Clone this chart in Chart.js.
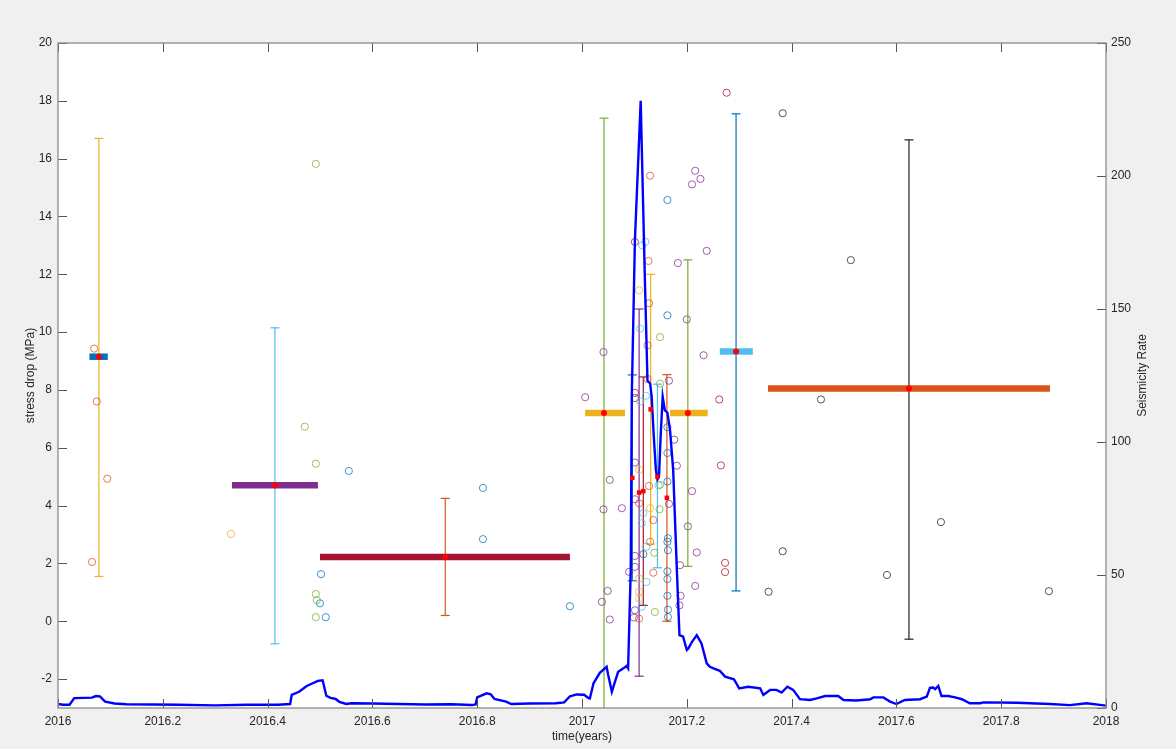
<!DOCTYPE html>
<html>
<head>
<meta charset="utf-8">
<script src="https://cdn.jsdelivr.net/npm/chart.js@4.4.1/dist/chart.umd.min.js"></script>
<style>
  html, body { margin: 0; padding: 0; background: #f0f0f0; }
  #wrap { width: 1176px; height: 749px; }
</style>
</head>
<body>
<div id="wrap"><canvas id="chart" width="1176" height="749"></canvas></div>
<script>
// axis ticks
const xTicks = [2016, 2016.2, 2016.4, 2016.6, 2016.8, 2017, 2017.2, 2017.4, 2017.6, 2017.8, 2018];
const xTickLabels = ['2016', '2016.2', '2016.4', '2016.6', '2016.8', '2017', '2017.2', '2017.4', '2017.6', '2017.8', '2018'];
const leftTicks = [-2, 0, 2, 4, 6, 8, 10, 12, 14, 16, 18, 20];
const rightTicks = [0, 50, 100, 150, 200, 250];

// seismicity rate (right axis)
const seisYears = [
  2016.000, 2016.010, 2016.022, 2016.031, 2016.050, 2016.065, 2016.072, 2016.080, 2016.090, 2016.108,
  2016.130, 2016.180, 2016.230, 2016.300, 2016.360, 2016.420, 2016.443, 2016.446, 2016.460, 2016.474,
  2016.485, 2016.496, 2016.505, 2016.512, 2016.520, 2016.530, 2016.537, 2016.550, 2016.560, 2016.600,
  2016.650, 2016.700, 2016.750, 2016.790, 2016.797, 2016.800, 2016.818, 2016.826, 2016.833, 2016.855,
  2016.865, 2016.900, 2016.950, 2016.966, 2016.977, 2016.990, 2017.004, 2017.012, 2017.015, 2017.022,
  2017.034, 2017.047, 2017.050, 2017.057, 2017.063, 2017.069, 2017.079, 2017.085, 2017.088, 2017.093,
  2017.095, 2017.101, 2017.112, 2017.120, 2017.125, 2017.130, 2017.133, 2017.137, 2017.141, 2017.144,
  2017.147, 2017.150, 2017.154, 2017.158, 2017.163, 2017.168, 2017.174, 2017.181, 2017.186, 2017.193,
  2017.200, 2017.203, 2017.210, 2017.219, 2017.228, 2017.238, 2017.244, 2017.251, 2017.263, 2017.273,
  2017.290, 2017.300, 2017.317, 2017.340, 2017.346, 2017.359, 2017.371, 2017.381, 2017.392, 2017.403,
  2017.416, 2017.435, 2017.448, 2017.464, 2017.489, 2017.499, 2017.524, 2017.550, 2017.556, 2017.575,
  2017.588, 2017.600, 2017.616, 2017.645, 2017.658, 2017.664, 2017.670, 2017.674, 2017.680, 2017.686,
  2017.699, 2017.712, 2017.725, 2017.740, 2017.760, 2017.766, 2017.830, 2017.893, 2017.931, 2017.963,
  2018.000
];
const seisRate = [
  1.5, 1.2, 1.2, 3.7, 3.8, 3.9, 4.5, 4.4, 2.4, 1.7,
  1.4, 1.3, 1.2, 1.0, 1.2, 1.2, 1.5, 4.9, 6.1, 8.2,
  9.2, 10.2, 10.4, 4.6, 3.8, 3.4, 2.3, 1.5, 1.8, 1.7,
  1.5, 1.3, 1.4, 1.1, 1.3, 4.0, 5.5, 5.1, 3.4, 2.4,
  1.5, 1.7, 1.8, 2.1, 4.4, 5.1, 5.0, 3.8, 3.6, 9.3,
  13.2, 15.5, 12.4, 6.1, 9.9, 13.6, 14.9, 15.8, 14.9, 51.9,
  117, 176, 228.3, 161, 123, 122, 117, 102, 89.5, 86,
  87, 102, 117, 112, 111, 104.5, 89.5, 52, 27.4, 26.8,
  21.8, 22.4, 24.9, 27.4, 24.3, 16.8, 15.5, 14.9, 14.0, 11.8,
  10.8, 7.4, 8.0, 7.4, 4.9, 6.8, 6.8, 5.8, 8.0, 6.8,
  3.3, 3.0, 3.6, 4.5, 4.5, 3.0, 2.8, 3.3, 4.0, 4.0,
  2.4, 1.5, 3.0, 3.3, 4.3, 7.6, 7.7, 7.1, 8.3, 4.5,
  4.5, 4.0, 3.3, 1.8, 1.8, 2.1, 2.0, 1.5, 1.1, 1.8,
  0.9
];

// mean stress drop bars (left axis)
const barStart = [2016.060, 2016.332, 2016.500, 2017.006, 2017.168, 2017.263, 2017.355];
const barEnd   = [2016.095, 2016.496, 2016.977, 2017.082, 2017.240, 2017.326, 2017.893];
const barLevel = [9.15, 4.7, 2.22, 7.2, 7.2, 9.33, 8.05];
const barColors = ['blue', 'purple', 'darkred', 'yellow', 'yellow', 'lightblue', 'orange'];
const barMidX = [2016.078, 2016.414, 2016.739, 2017.042, 2017.202, 2017.294, 2017.624];

// error bars
const errX    = [2016.078, 2016.414, 2016.739, 2017.042, 2017.202, 2017.294, 2017.624, 2017.096, 2017.109, 2017.117, 2017.131, 2017.144, 2017.162];
const errLow  = [1.55, -0.78, 0.2, -3.5, 1.9, 1.05, -0.62, 1.4, -1.9, 0.55, 2.67, 1.85, 0.0];
const errHigh = [16.7, 10.15, 4.25, 17.4, 12.5, 17.55, 16.65, 8.52, 10.8, 8.45, 12.0, 8.2, 8.53];
const errColors = ['yellow', 'lightblue', 'orange', 'green', 'green', 'blue', 'black', 'blue', 'purple', 'darkred', 'yellow', 'lightblue', 'orange'];

// red square means of the swarm windows
const squareX = [2017.096, 2017.109, 2017.117, 2017.131, 2017.144, 2017.162];
const squareY = [4.96, 4.45, 4.5, 7.33, 5.0, 4.27];

// individual events
const orangeX = [2016.069, 2016.074, 2016.094, 2016.065, 2017.127, 2017.128, 2017.125, 2017.125, 2017.130, 2017.128, 2017.109, 2017.136, 2017.130, 2017.136, 2017.109];
const orangeY = [9.43, 7.6, 4.93, 2.05, 12.46, 11.0, 9.54, 8.38, 15.41, 4.68, 4.08, 3.5, 2.75, 1.68, 0.09];
const yellowX = [2016.330, 2017.109, 2017.109, 2017.130, 2017.109, 2017.109, 2017.109];
const yellowY = [3.02, 11.45, 5.24, 3.91, 1.48, 1.02, 0.79];
const greenX = [2016.492, 2016.471, 2016.492, 2016.492, 2016.494, 2016.492, 2017.149, 2017.149, 2017.149, 2017.148, 2017.138, 2017.139];
const greenY = [15.82, 6.73, 5.45, 0.94, 0.73, 0.14, 9.83, 8.22, 4.72, 3.87, 2.37, 0.32];
const blueX = [2016.502, 2016.500, 2016.511, 2016.555, 2016.811, 2016.811, 2016.977, 2017.163, 2017.163, 2017.163, 2017.163, 2017.163, 2017.164, 2017.163, 2017.164, 2017.163, 2017.163, 2017.163, 2017.164, 2017.164, 2017.117];
const blueY = [1.63, 0.62, 0.14, 5.2, 4.61, 2.84, 0.52, 14.57, 10.58, 6.71, 5.82, 4.83, 2.87, 2.75, 2.46, 1.73, 1.46, 0.88, 0.4, 0.15, 2.32];
const lightblueX = [2017.121, 2017.115, 2017.111, 2017.111, 2017.122, 2017.117, 2017.114, 2017.123, 2017.123, 2017.114, 2017.146];
const lightblueY = [13.12, 13.0, 10.12, 7.6, 7.8, 3.74, 3.39, 2.58, 1.36, 0.5, 4.7];
const purpleX = [
  2017.006, 2017.041, 2017.053, 2017.041, 2017.076, 2017.049, 2017.038, 2017.053,
  2017.216, 2017.226, 2017.210, 2017.238, 2017.183, 2017.200, 2017.232, 2017.166, 2017.176, 2017.181,
  2017.210, 2017.166, 2017.202, 2017.219, 2017.187, 2017.216, 2017.188, 2017.186,
  2017.101, 2017.101, 2017.101, 2017.090, 2017.101, 2017.101, 2017.099
];
const purpleY = [
  7.75, 9.31, 4.89, 3.87, 3.91, 1.05, 0.67, 0.06,
  15.58, 15.3, 15.11, 12.81, 12.39, 10.44, 9.2, 8.32, 6.28, 5.38,
  4.5, 4.06, 3.28, 2.38, 1.94, 1.22, 0.88, 0.55,
  5.49, 4.22, 2.26, 1.71, 1.88, 0.38, 0.13
];
const darkredX = [2017.276, 2017.262, 2017.265, 2017.273, 2017.273, 2017.101, 2017.101, 2017.101];
const darkredY = [18.28, 7.67, 5.39, 2.02, 1.7, 13.12, 7.9, 7.72];
const blackX = [2017.383, 2017.383, 2017.356, 2017.456, 2017.513, 2017.582, 2017.685, 2017.891];
const blackY = [17.57, 2.42, 1.02, 7.67, 12.49, 1.6, 3.43, 1.04];

const palette = {
  blue: '#0072BD', orange: '#D95319', yellow: '#EDB120', purple: '#7E2F8E',
  green: '#77AC30', lightblue: '#4DBEEE', darkred: '#A2142F', black: '#222222'
};

const zip = (xs, ys) => xs.map((x, i) => ({ x, y: ys[i] }));

const datasets = [];

// red markers on top
datasets.push({
  data: zip(barMidX, barLevel),
  pointStyle: 'circle', pointRadius: 3, borderWidth: 0,
  backgroundColor: '#ff0000', borderColor: '#ff0000', order: 0, yAxisID: 'y'
});
datasets.push({
  data: zip(squareX, squareY),
  pointStyle: 'rect', pointRadius: 3.2, borderWidth: 0,
  backgroundColor: '#ff0000', borderColor: '#ff0000', order: 0, yAxisID: 'y'
});

// seismicity rate
datasets.push({
  data: zip(seisYears, seisRate),
  showLine: true, borderColor: '#0000ff', borderWidth: 2.4, pointRadius: 0,
  tension: 0, order: 1, yAxisID: 'y1'
});

// event circles
[
  ['orange', orangeX, orangeY], ['yellow', yellowX, yellowY], ['green', greenX, greenY],
  ['blue', blueX, blueY], ['lightblue', lightblueX, lightblueY], ['purple', purpleX, purpleY],
  ['darkred', darkredX, darkredY], ['black', blackX, blackY]
].forEach(([name, xs, ys]) => {
  datasets.push({
    data: zip(xs, ys),
    pointStyle: 'circle', pointRadius: 3.6, borderWidth: 1,
    borderColor: palette[name] + 'C0', backgroundColor: 'rgba(0,0,0,0)',
    order: 2, yAxisID: 'y'
  });
});

// mean bars
barStart.forEach((x0, i) => {
  datasets.push({
    data: [{ x: x0, y: barLevel[i] }, { x: barEnd[i], y: barLevel[i] }],
    showLine: true, borderColor: palette[barColors[i]], borderWidth: 6.5,
    borderCapStyle: 'butt', pointRadius: 0, order: 3, yAxisID: 'y'
  });
});

// error bars, caps drawn as line markers
errX.forEach((x, i) => {
  const col = palette[errColors[i]];
  datasets.push({
    data: [{ x, y: errLow[i] }, { x, y: errHigh[i] }],
    showLine: true, borderColor: col, borderWidth: 1.2,
    pointStyle: 'line', pointRadius: 4.5, pointBorderColor: col, pointBorderWidth: 1.2,
    order: 4, yAxisID: 'y'
  });
});

const textColor = '#262626';
const fontFamily = '"Liberation Sans", Arial, Helvetica, sans-serif';

const frame = {
  id: 'frame',
  beforeDraw(chart) {
    const { ctx, chartArea: a } = chart;
    ctx.save();
    ctx.fillStyle = '#ffffff';
    ctx.fillRect(a.left, a.top, a.right - a.left, a.bottom - a.top);
    ctx.restore();
  },
  afterDraw(chart) {
    const { ctx, chartArea: a, scales } = chart;
    const tl = 9;
    ctx.save();
    ctx.strokeStyle = '#555555';
    ctx.lineWidth = 1;
    ctx.beginPath();
    xTicks.forEach(v => {
      const px = Math.round(scales.x.getPixelForValue(v)) + 0.5;
      ctx.moveTo(px, a.bottom); ctx.lineTo(px, a.bottom - tl);
      ctx.moveTo(px, a.top); ctx.lineTo(px, a.top + tl);
    });
    leftTicks.forEach(v => {
      const py = Math.round(scales.y.getPixelForValue(v)) + 0.5;
      ctx.moveTo(a.left, py); ctx.lineTo(a.left + tl, py);
    });
    rightTicks.forEach(v => {
      const py = Math.round(scales.y1.getPixelForValue(v)) + 0.5;
      ctx.moveTo(a.right, py); ctx.lineTo(a.right - tl, py);
    });
    ctx.stroke();

    ctx.strokeStyle = '#8a8a8a';
    ctx.lineWidth = 1.3;
    ctx.strokeRect(a.left, a.top, a.right - a.left, a.bottom - a.top);

    ctx.fillStyle = textColor;
    ctx.font = '12px ' + fontFamily;
    ctx.textAlign = 'center';
    ctx.textBaseline = 'middle';
    ctx.fillText('time(years)', (a.left + a.right) / 2, 737);

    ctx.translate(31, (a.top + a.bottom) / 2);
    ctx.rotate(-Math.PI / 2);
    ctx.fillText('stress drop (MPa)', 0, 0);
    ctx.setTransform(1, 0, 0, 1, 0, 0);

    ctx.translate(1143, (a.top + a.bottom) / 2);
    ctx.rotate(-Math.PI / 2);
    ctx.fillText('Seismicity Rate', 0, 0);
    ctx.restore();
  }
};

new Chart(document.getElementById('chart'), {
  type: 'scatter',
  data: { datasets },
  plugins: [frame],
  options: {
    responsive: false,
    animation: false,
    events: [],
    layout: { padding: { top: 43, left: 0, right: 0, bottom: 0 } },
    plugins: { legend: { display: false }, tooltip: { enabled: false } },
    scales: {
      x: {
        type: 'linear', position: 'bottom', min: 2016, max: 2018,
        grid: { display: false, drawTicks: false },
        border: { display: false },
        afterBuildTicks: s => { s.ticks = xTicks.map(v => ({ value: v })); },
        afterFit: s => { s.height = 41; },
        ticks: {
          autoSkip: false, maxRotation: 0, padding: 6, color: textColor,
          font: { size: 12, family: fontFamily },
          callback: (v, i) => xTickLabels[i]
        }
      },
      y: {
        type: 'linear', position: 'left', min: -3, max: 20,
        grid: { display: false, drawTicks: false },
        border: { display: false },
        afterBuildTicks: s => { s.ticks = leftTicks.map(v => ({ value: v })); },
        afterFit: s => { s.width = 58; },
        ticks: { padding: 6, color: textColor, font: { size: 12, family: fontFamily } }
      },
      y1: {
        type: 'linear', position: 'right', min: 0, max: 250,
        grid: { display: false, drawTicks: false },
        border: { display: false },
        afterBuildTicks: s => { s.ticks = rightTicks.map(v => ({ value: v })); },
        afterFit: s => { s.width = 70; },
        ticks: { padding: 5, color: textColor, font: { size: 12, family: fontFamily } }
      }
    }
  }
});
</script>
</body>
</html>
